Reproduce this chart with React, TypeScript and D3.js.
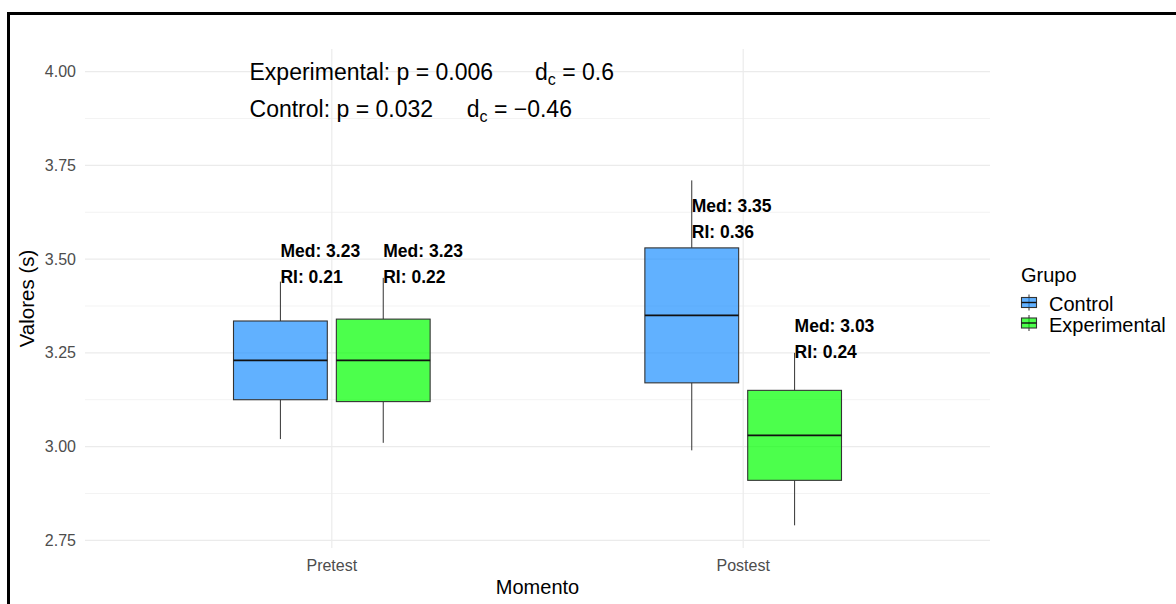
import React from 'react';
import * as d3 from 'd3';

const categories = ['Pretest', 'Postest'];
const groups = ['Control', 'Experimental'];
const groupFill = ['#1E90FF', '#00FF00'];

// five-number summaries per momento (Pretest, Postest)
const ctrlMin = [3.02, 2.99];
const ctrlQ1 = [3.125, 3.17];
const ctrlMed = [3.23, 3.35];
const ctrlQ3 = [3.335, 3.53];
const ctrlMax = [3.44, 3.71];

const expMin = [3.01, 2.79];
const expQ1 = [3.12, 2.91];
const expMed = [3.23, 3.03];
const expQ3 = [3.34, 3.15];
const expMax = [3.45, 3.25];

const yTicks = [2.75, 3.0, 3.25, 3.5, 3.75, 4.0];
const yMinor = [2.875, 3.125, 3.375, 3.625, 3.875];

// annotations
const annotGroup = ['Experimental', 'Control'];
const annotP = ['0.006', '0.032'];
const annotD = ['0.6', '\u22120.46'];
const annotY = [4.0, 3.9];
const annotX = 0.8;
const annotDX = [1.494, 1.328];

const FONT = '"Liberation Sans", Arial, Helvetica, sans-serif';

export default function App() {
  const W = 1176, H = 604;
  const panel = { left: 85, right: 990, top: 49, bottom: 548 };

  const stats = [
    { min: ctrlMin, q1: ctrlQ1, med: ctrlMed, q3: ctrlQ3, max: ctrlMax },
    { min: expMin, q1: expQ1, med: expMed, q3: expQ3, max: expMax },
  ];

  const allVals = [...ctrlMin, ...ctrlMax, ...expMin, ...expMax, ...annotY];
  const lo = d3.min(allVals) as number;
  const hi = d3.max(allVals) as number;
  const pad = (hi - lo) * 0.05;

  const y = d3.scaleLinear().domain([lo - pad, hi + pad]).range([panel.bottom, panel.top]);
  const n = categories.length;
  const x = d3.scaleLinear().domain([0.4, n + 0.6]).range([panel.left, panel.right]);

  const dodge = 0.125;
  const boxW = 0.228;

  const boxes: any[] = [];
  groups.forEach((g, gi) => {
    categories.forEach((c, ci) => {
      const s = stats[gi];
      const cx = ci + 1 + (gi === 0 ? -dodge : dodge);
      boxes.push({
        g, gi, c, ci, cx,
        min: s.min[ci], q1: s.q1[ci], med: s.med[ci], q3: s.q3[ci], max: s.max[ci],
      });
    });
  });

  return (
    <svg width={W} height={H} style={{ position: 'fixed', left: 0, top: 0, background: '#fff' }} fontFamily={FONT}>
      <rect x={0} y={0} width={W} height={H} fill="#fff" />
      {/* minor grid */}
      {yMinor.map((v) => (
        <line key={'mi' + v} x1={panel.left} x2={panel.right} y1={y(v)} y2={y(v)} stroke="#F3F3F3" strokeWidth={1} />
      ))}
      {/* major grid */}
      {yTicks.map((v) => (
        <line key={'ma' + v} x1={panel.left} x2={panel.right} y1={y(v)} y2={y(v)} stroke="#EBEBEB" strokeWidth={1.2} />
      ))}
      {categories.map((c, i) => (
        <line key={'vx' + c} x1={x(i + 1)} x2={x(i + 1)} y1={panel.top} y2={panel.bottom} stroke="#EBEBEB" strokeWidth={1.2} />
      ))}

      {/* boxes */}
      {boxes.map((b) => {
        const cx = x(b.cx);
        const x0 = x(b.cx - boxW / 2);
        const x1 = x(b.cx + boxW / 2);
        return (
          <g key={b.g + b.c}>
            <line x1={cx} x2={cx} y1={y(b.max)} y2={y(b.q3)} stroke="#333" strokeWidth={1} />
            <line x1={cx} x2={cx} y1={y(b.q1)} y2={y(b.min)} stroke="#333" strokeWidth={1} />
            <rect x={x0} y={y(b.q3)} width={x1 - x0} height={y(b.q1) - y(b.q3)}
              fill={groupFill[b.gi]} fillOpacity={0.7} stroke="#333" strokeWidth={1.1} />
            <line x1={x0} x2={x1} y1={y(b.med)} y2={y(b.med)} stroke="#111" strokeWidth={1.7} />
          </g>
        );
      })}

      {/* Med / RI labels */}
      {boxes.map((b) => {
        const cx = x(b.cx);
        const by = y(b.med + 0.275);
        return (
          <g key={'lab' + b.g + b.c} fontWeight="bold" fontSize={17.5} fill="#000">
            <text x={cx} y={by}>{'Med: ' + b.med.toFixed(2)}</text>
            <text x={cx} y={by + 25.5}>{'RI: ' + (b.q3 - b.q1).toFixed(2)}</text>
          </g>
        );
      })}

      {/* annotations */}
      {annotGroup.map((g, i) => (
        <g key={'an' + g} fontSize={23} fill="#000">
          <text x={x(annotX)} y={y(annotY[i]) + 8}>{g + ': p = ' + annotP[i]}</text>
          <text x={x(annotDX[i])} y={y(annotY[i]) + 8}>
            d<tspan fontSize={16} dy={5}>c</tspan><tspan dy={-5}>{' = ' + annotD[i]}</tspan>
          </text>
        </g>
      ))}

      {/* y axis ticks */}
      {yTicks.map((v) => (
        <text key={'yt' + v} x={76} y={y(v) + 5.5} textAnchor="end" fontSize={16} fill="#4D4D4D">{v.toFixed(2)}</text>
      ))}
      {/* x axis ticks */}
      {categories.map((c, i) => (
        <text key={'xt' + c} x={x(i + 1)} y={571} textAnchor="middle" fontSize={16} fill="#4D4D4D">{c}</text>
      ))}
      {/* axis titles */}
      <text x={(panel.left + panel.right) / 2} y={594} textAnchor="middle" fontSize={20} fill="#000">Momento</text>
      <text transform={`translate(34,${(panel.top + panel.bottom) / 2}) rotate(-90)`} textAnchor="middle" fontSize={20.5} fill="#000">Valores (s)</text>

      {/* legend */}
      <text x={1021} y={282} fontSize={20} fill="#000">Grupo</text>
      {groups.map((g, i) => {
        const cy = 302.5 + i * 20.5;
        const kx0 = 1021.5, kx1 = 1036.5, kcx = (kx0 + kx1) / 2;
        return (
          <g key={'lg' + g}>
            <line x1={kcx} x2={kcx} y1={cy - 8} y2={cy + 8} stroke="#333" strokeWidth={1} />
            <rect x={kx0} y={cy - 5} width={kx1 - kx0} height={10} fill={groupFill[i]} fillOpacity={0.7} stroke="#333" strokeWidth={1.1} />
            <line x1={kx0} x2={kx1} y1={cy} y2={cy} stroke="#111" strokeWidth={1.4} />
            <text x={1049} y={cy + 8.5} fontSize={20} fill="#000">{g}</text>
          </g>
        );
      })}

      {/* outer frame */}
      <rect x={8.5} y={13.5} width={1400} height={1000} fill="none" stroke="#000" strokeWidth={3} />
    </svg>
  );
}
